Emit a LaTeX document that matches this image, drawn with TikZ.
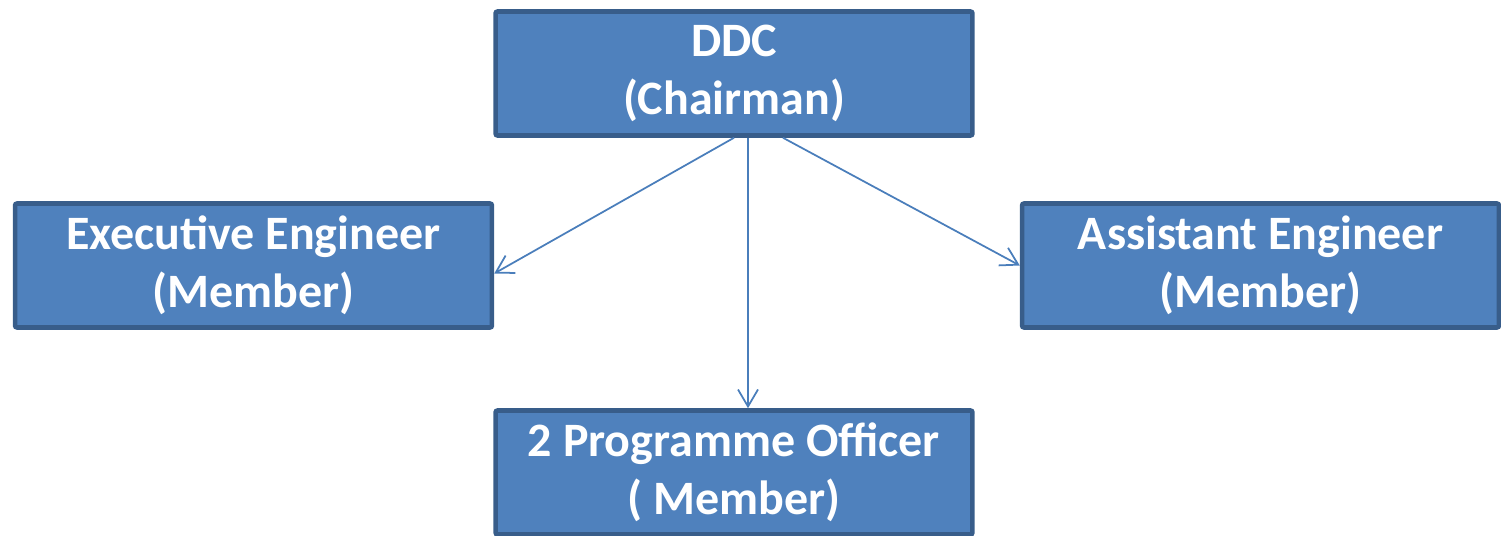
\documentclass[tikz,border=0pt]{standalone}
\usepackage{fontspec}
\setmainfont{Carlito}
\usetikzlibrary{arrows.meta}
\definecolor{boxFill}{RGB}{79,129,189}
\definecolor{boxBorder}{RGB}{56,93,138}
\definecolor{linkColor}{RGB}{74,126,187}
\tikzstyle{chart} = [x = .02cm, y = -.02cm]
\tikzstyle{memberBox} = [draw=boxBorder, fill=boxFill, line width=2.6pt, rounded corners=.04cm, minimum width=9.54cm, minimum height=2.48cm, align=center, text=white, font=\fontsize{27.3}{33}\selectfont\bfseries]
\tikzstyle{linkLine} = [color=linkColor, line width=1pt, -{Straight Barb[length=.34cm, width=.4cm]}]
\begin{document}
\begin{tikzpicture}[chart]
  \useasboundingbox (0,0) rectangle (1501,536);

  \node[memberBox] (ddc) at (734,73.5) {DDC\\(Chairman)};
  \node[memberBox] (exec) at (253.5,265.5) {Executive Engineer\\(Member)};
  \node[memberBox] (asst) at (1260.5,265.5) {Assistant Engineer\\(Member)};
  \node[memberBox] (prog) at (734,472.5) {2 Programme Officer\\( Member)};

  \draw[linkLine] (ddc.south) -- ([yshift=-.16cm]exec.east);
  \draw[linkLine] ([xshift=.28cm]ddc.south) -- ([xshift=.28cm]prog.north);
  \draw[linkLine] ([xshift=.98cm]ddc.south) -- (asst.west);
\end{tikzpicture}
\end{document}
